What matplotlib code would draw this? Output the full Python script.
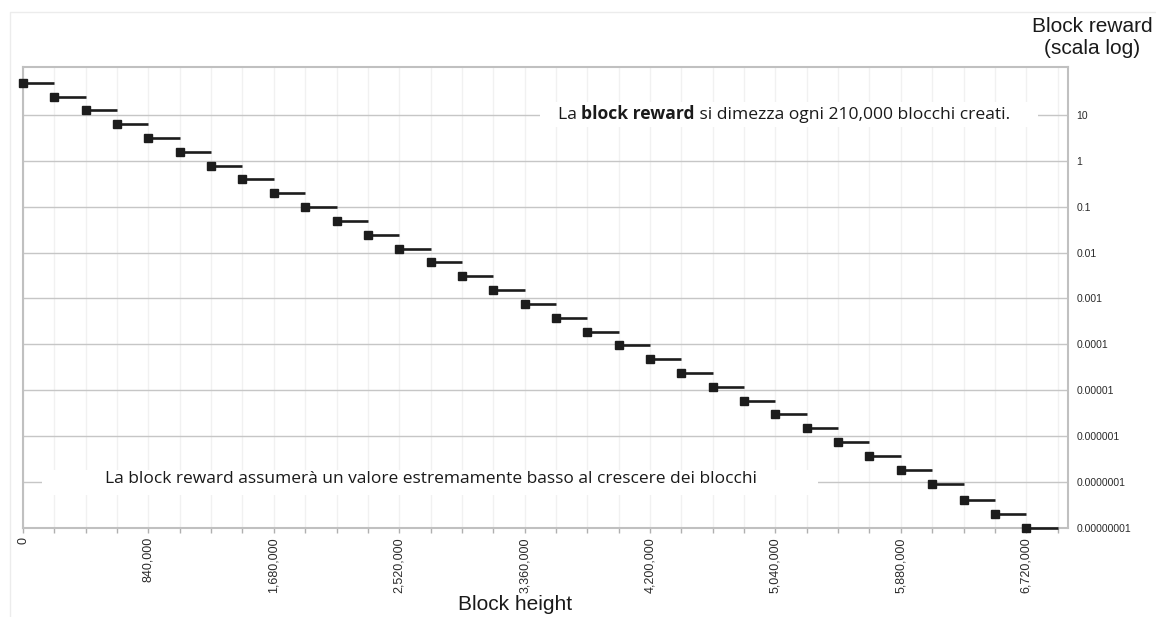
import matplotlib
matplotlib.use("Agg")
import matplotlib.pyplot as plt
from matplotlib.patches import Rectangle
from matplotlib.transforms import blended_transform_factory
from matplotlib.ticker import FixedLocator, MultipleLocator, FuncFormatter

# Block reward (BTC, truncated to satoshi) at the start of each halving era
block_heights = [0, 210000, 420000, 630000, 840000, 1050000, 1260000, 1470000,
                 1680000, 1890000, 2100000, 2310000, 2520000, 2730000, 2940000,
                 3150000, 3360000, 3570000, 3780000, 3990000, 4200000, 4410000,
                 4620000, 4830000, 5040000, 5250000, 5460000, 5670000, 5880000,
                 6090000, 6300000, 6510000, 6720000]
rewards = [50, 25, 12.5, 6.25, 3.125, 1.5625, 0.78125, 0.390625, 0.1953125,
           0.09765625, 0.04882812, 0.02441406, 0.01220703, 0.00610351,
           0.00305175, 0.00152587, 0.00076293, 0.00038146, 0.00019073,
           0.00009536, 0.00004768, 0.00002384, 0.00001192, 0.00000596,
           0.00000298, 0.00000149, 0.00000074, 0.00000037, 0.00000018,
           0.00000009, 0.00000004, 0.00000002, 0.00000001]
era_length = 210000

x_label_ticks = [0, 840000, 1680000, 2520000, 3360000, 4200000, 5040000, 5880000, 6720000]
y_ticks = [10, 1, 0.1, 0.01, 0.001, 0.0001, 0.00001, 0.000001, 0.0000001, 0.00000001]
y_tick_labels = ["10", "1", "0.1", "0.01", "0.001", "0.0001", "0.00001",
                 "0.000001", "0.0000001", "0.00000001"]

mark_color = "#1c1c1c"
note_font = "Open Sans"
label_font = "Liberation Sans"

fig = plt.figure(figsize=(11.56, 6.17), dpi=100)
ax = fig.add_axes([0.0199, 0.1442, 0.904, 0.7472])

# thin outer frame
fig.patches.append(Rectangle((0.009, -0.1), 1.2, 1.081, transform=fig.transFigure,
                             fill=False, edgecolor="#ececec", lw=1.0))

for x, r in zip(block_heights, rewards):
    ax.plot([x, x + era_length], [r, r], color=mark_color, lw=1.9,
            solid_capstyle="butt", zorder=3, clip_on=False)
    ax.plot(x, r, marker="s", ms=6.3, color=mark_color, zorder=4, clip_on=False)

ax.set_yscale("log")
ax.set_ylim(1e-8, 110)
ax.set_xlim(0, 7000000)

ax.yaxis.tick_right()
ax.yaxis.set_major_locator(FixedLocator(y_ticks))
ax.yaxis.set_minor_locator(FixedLocator([]))
ax.set_yticklabels(y_tick_labels, family=label_font)
ax.tick_params(axis="y", which="major", length=0, pad=6, labelsize=7.5,
               labelcolor="#2a2a2a")

ax.xaxis.set_major_locator(FixedLocator(x_label_ticks))
ax.xaxis.set_minor_locator(MultipleLocator(era_length))
ax.xaxis.set_major_formatter(FuncFormatter(lambda v, p: f"{int(v):,}"))
ax.tick_params(axis="x", which="both", direction="out", length=3.6, width=1,
               color="#b0b0b0")
ax.tick_params(axis="x", which="major", labelsize=9, labelcolor="#2a2a2a",
               labelrotation=90, pad=3)
for lbl in ax.get_xticklabels():
    lbl.set_family(label_font)

ax.set_axisbelow(True)
ax.grid(True, axis="x", which="both", color="#f1f1f1", lw=1)
ax.grid(True, axis="y", which="major", color="#c6c6c6", lw=1)

for side in ["left", "right", "top", "bottom"]:
    ax.spines[side].set_color("#c0c0c0")
    ax.spines[side].set_linewidth(1.5)

# white panels behind the two notes
blend = blended_transform_factory(ax.transAxes, ax.transData)
ax.add_patch(Rectangle((0.495, 10 / 10 ** 0.27), 0.476, 10 ** 0.27 * 10 - 10 / 10 ** 0.27,
                       transform=blend, facecolor="white", edgecolor="none", zorder=1))
ax.add_patch(Rectangle((0.018, 1e-7 / 10 ** 0.27), 0.743, 1e-7 * 10 ** 0.27 - 1e-7 / 10 ** 0.27,
                       transform=blend, facecolor="white", edgecolor="none", zorder=1))

# halving note with a bold span
note_size = 12.6
t1 = ax.text(0.512, 10, "La ", transform=blend, fontsize=note_size, family=note_font,
             color="#1a1a1a", va="center", ha="left", zorder=2)
t2 = ax.annotate("block reward", xy=(1, 0), xycoords=t1, fontsize=note_size,
                 family=note_font, fontweight="bold", color="#1a1a1a",
                 va="bottom", ha="left", zorder=2)
ax.annotate(" si dimezza ogni 210,000 blocchi creati.", xy=(1, 0), xycoords=t2,
            fontsize=note_size, family=note_font, color="#1a1a1a",
            va="bottom", ha="left", zorder=2)

ax.text(0.3904, 1.15e-7, "La block reward assumerà un valore estremamente basso al crescere dei blocchi",
        transform=blend, fontsize=12.5, family=note_font, color="#1a1a1a",
        va="center", ha="center", zorder=2)

fig.text(0.4455, 0.021, "Block height", fontsize=15, family=label_font,
         color="#1a1a1a", ha="center", va="center")
fig.text(0.9445, 0.972, "Block reward\n(scala log)", fontsize=15,
         family=label_font, color="#1a1a1a", ha="center", va="top",
         linespacing=1.2)

fig.savefig("out.png", dpi=100)
